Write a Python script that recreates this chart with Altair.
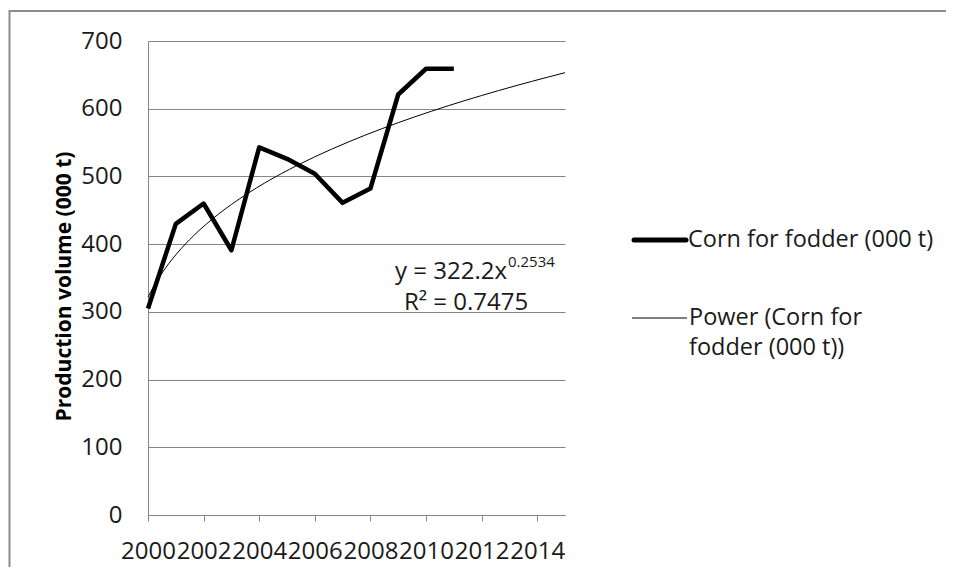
import altair as alt
import pandas as pd

# ---- data ----
YEARS = [2000, 2001, 2002, 2003, 2004, 2005, 2006, 2007, 2008, 2009, 2010, 2011]
CORN = [305, 430, 460, 391, 543, 526, 504, 461, 482, 621, 659, 659]
SERIES = ["Corn for fodder (000 t)", "Power (Corn for fodder (000 t))"]
Y_TICKS = [0, 100, 200, 300, 400, 500, 600, 700]
X_TICKS = [2000 + 0.5 * k for k in range(31)]
EQ_MAIN = "y = 322.2x"
EQ_EXP = "0.2534"
EQ_R2 = "R\u00b2 = 0.7475"
Y_TITLE = "Production volume (000 t)"

FONT = "Open Sans"
GRID = "#868686"
TXT = "#1a1a1a"
W, H = 417, 474

df = pd.DataFrame({"year": YEARS, "value": CORN})

x_scale = alt.Scale(domain=[2000, 2015], nice=False, zero=False)
y_scale = alt.Scale(domain=[0, 700], nice=False)

x_enc = alt.X(
    "year:Q",
    scale=x_scale,
    axis=alt.Axis(
        values=X_TICKS,
        labelExpr="datum.value % 2 == 0 ? format(datum.value, 'd') : ''",
        labelOverlap=False,
        labelFlush=False,
        labelFont=FONT,
        labelFontSize=24,
        labelColor=TXT,
        labelPadding=18,
        grid=False,
        domainColor=GRID,
        tickColor=GRID,
        tickSize=6,
        title=None,
    ),
)
y_enc = alt.Y(
    "value:Q",
    scale=y_scale,
    axis=alt.Axis(
        values=Y_TICKS,
        ticks=False,
        labelPadding=26,
        labelFont=FONT,
        labelFontSize=24,
        labelColor=TXT,
        grid=True,
        gridColor=GRID,
        gridWidth=1,
        domainColor=GRID,
        title=Y_TITLE,
        titleFont=FONT,
        titleFontSize=21,
        titleFontWeight="bold",
        titleColor="#000000",
        titleAngle=-90,
        titleX=-84,
        titleY=245,
        titleAlign="center",
        titleBaseline="middle",
    ),
)

base = alt.Chart(df)

corn_line = base.mark_line(color="#000000", strokeWidth=4.5, strokeJoin="round").encode(
    x=x_enc, y=y_enc
)

trend = (
    base.transform_calculate(t="datum.year - 1999")
    .transform_regression("t", "value", method="pow", extent=[1, 16])
    .transform_calculate(year="datum.t + 1999")
    .mark_line(color="#000000", strokeWidth=1)
    .encode(x=alt.X("year:Q", scale=x_scale), y=alt.Y("value:Q", scale=y_scale))
)

one = pd.DataFrame({"k": [0]})

frame = alt.Chart(one).mark_rect(fillOpacity=0, stroke="#8c8c8c", strokeWidth=2).encode(
    x=alt.value(-138.5), x2=alt.value(900), y=alt.value(-30), y2=alt.value(700)
)

eq_main = alt.Chart(one).mark_text(
    font=FONT, fontSize=24, align="right", baseline="middle", color=TXT
).encode(x=alt.value(359), y=alt.value(231), text=alt.value(EQ_MAIN))

eq_exp = alt.Chart(one).mark_text(
    font=FONT, fontSize=15, align="left", baseline="middle", color=TXT
).encode(x=alt.value(360), y=alt.value(221), text=alt.value(EQ_EXP))

eq_r2 = alt.Chart(one).mark_text(
    font=FONT, fontSize=24, align="center", baseline="middle", color=TXT
).encode(x=alt.value(318), y=alt.value(262), text=alt.value(EQ_R2))

leg_thick = alt.Chart(one).mark_rule(color="#000000", strokeWidth=5, strokeCap="round").encode(
    x=alt.value(486), x2=alt.value(538), y=alt.value(199)
)
leg_thin = alt.Chart(one).mark_rule(color="#000000", strokeWidth=1).encode(
    x=alt.value(484), x2=alt.value(539), y=alt.value(277)
)
leg_txt1 = alt.Chart(one).mark_text(
    font=FONT, fontSize=23.5, align="left", baseline="middle", color=TXT
).encode(x=alt.value(540), y=alt.value(199), text=alt.value(SERIES[0]))
leg_txt2 = alt.Chart(one).mark_text(
    font=FONT, fontSize=23.5, align="left", baseline="middle", color=TXT, lineHeight=30
).encode(
    x=alt.value(541), y=alt.value(277), text=alt.value(["Power (Corn for", "fodder (000 t))"])
)

chart = (
    alt.layer(
        frame, trend, corn_line, eq_main, eq_exp, eq_r2, leg_thick, leg_thin, leg_txt1, leg_txt2
    )
    .properties(
        width=W,
        height=H,
        autosize=alt.AutoSizeParams(type="none"),
        padding={"left": 140, "top": 33, "right": 381, "bottom": 52},
        background="#ffffff",
    )
    .configure_view(stroke=None)
)

chart.save("out.html", embed_options={"renderer": "svg", "actions": False})
